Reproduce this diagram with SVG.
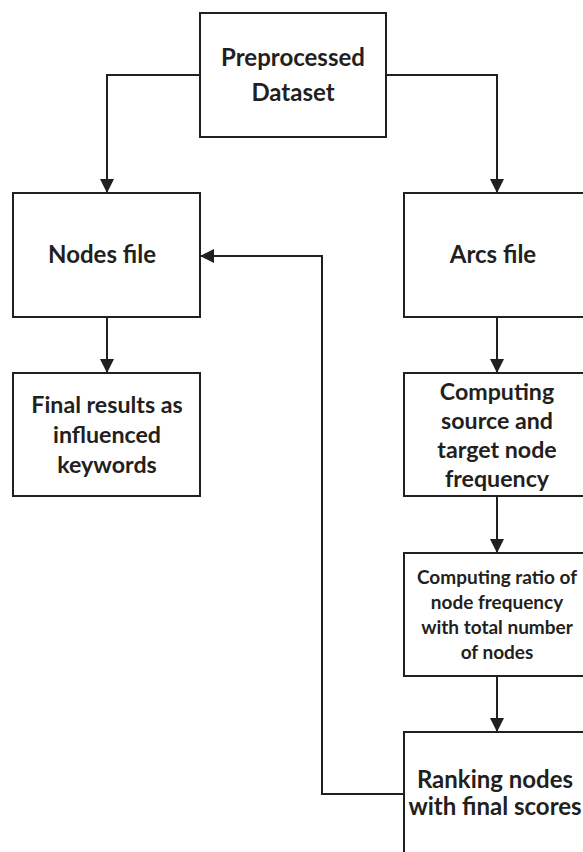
<svg xmlns="http://www.w3.org/2000/svg" width="583" height="852" viewBox="0 0 583 852">
<style>
.box{fill:#fff;stroke:#231f20;stroke-width:2}
.t{font-family:Lato,"Open Sans","Liberation Sans",sans-serif;font-weight:bold;fill:#231f20;text-anchor:middle}
.l{font-size:24px}
.m{font-size:23.2px}
.s{font-size:19px}
.c{fill:none;stroke:#231f20;stroke-width:2}
</style>
<defs>
<marker id="ah" viewBox="0 0 14 14" refX="14" refY="7" markerWidth="14" markerHeight="14" markerUnits="userSpaceOnUse" orient="auto">
<path d="M0,0 L14,7 L0,14 Z" fill="#231f20"/>
</marker>
</defs>
<rect width="583" height="852" fill="#fff"/>
<g id="connectors">
<path class="c" d="M200,75 H107 V193" marker-end="url(#ah)"/>
<path class="c" d="M386,75 H497 V193" marker-end="url(#ah)"/>
<path class="c" d="M107,317 V373" marker-end="url(#ah)"/>
<path class="c" d="M497,317 V373" marker-end="url(#ah)"/>
<path class="c" d="M497,496 V553" marker-end="url(#ah)"/>
<path class="c" d="M497,676 V732" marker-end="url(#ah)"/>
<path class="c" d="M404,794 H322 V256 H200" marker-end="url(#ah)"/>
</g>
<g id="preprocessed">
<rect class="box" x="200" y="13" width="186" height="124"/>
<text class="t l" x="293" y="66">Preprocessed</text>
<text class="t l" x="293" y="101">Dataset</text>
</g>
<g id="nodes-file">
<rect class="box" x="13" y="193" width="187" height="124"/>
<text class="t l" x="102" y="263">Nodes file</text>
</g>
<g id="final-results">
<rect class="box" x="13" y="373" width="187" height="123"/>
<text class="t m" x="107" y="413">Final results as</text>
<text class="t m" x="107" y="443">influenced</text>
<text class="t m" x="107" y="473">keywords</text>
</g>
<g id="arcs-file">
<rect class="box" x="404" y="193" width="187" height="124"/>
<text class="t l" x="493" y="263">Arcs file</text>
</g>
<g id="computing-source">
<rect class="box" x="404" y="373" width="187" height="123"/>
<text class="t m" x="497" y="400">Computing</text>
<text class="t m" x="497" y="429">source and</text>
<text class="t m" x="497" y="458">target node</text>
<text class="t m" x="497" y="487">frequency</text>
</g>
<g id="computing-ratio">
<rect class="box" x="404" y="553" width="187" height="123"/>
<text class="t s" x="497" y="584">Computing ratio of</text>
<text class="t s" x="497" y="609">node frequency</text>
<text class="t s" x="497" y="634">with total number</text>
<text class="t s" x="497" y="659">of nodes</text>
</g>
<g id="ranking">
<rect class="box" x="404" y="732" width="187" height="140"/>
<text class="t l" x="495" y="788">Ranking nodes</text>
<text class="t l" x="495" y="815">with final scores</text>
</g>
</svg>
